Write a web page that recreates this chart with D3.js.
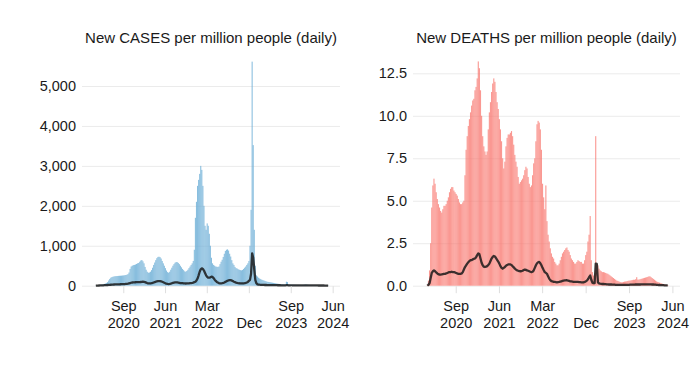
<!DOCTYPE html>
<html>
<head>
<meta charset="utf-8">
<script src="https://cdn.jsdelivr.net/npm/d3@7"></script>
<style>
  body { margin: 0; background: #fff; }
  text { font-family: "Liberation Sans", Arial, Helvetica, sans-serif; fill: #1a1a1a; }
  .title { font-size: 15px; }
  .tick text { font-size: 14.5px; fill: #1a1a1a; }
</style>
</head>
<body>
<div class="chart"></div>
<script>
// weekly values, first week starts 2020-03-02
const firstWeek = new Date(Date.UTC(2020, 2, 2));

const casesBars = [
  5, 8, 12, 15, 20, 25, 30, 35, 45, 55,
  70, 90, 130, 170, 200, 215, 225, 232, 238, 240,
  242, 245, 248, 250, 252, 255, 258, 262, 268, 275,
  290, 330, 420, 480, 500, 515, 520, 530, 545, 560,
  570, 600, 630, 643, 610, 560, 470, 400, 350, 325,
  330, 350, 390, 450, 520, 580, 640, 690, 720, 726,
  715, 680, 620, 560, 500, 440, 380, 340, 325, 350,
  400, 450, 500, 540, 575, 593, 590, 570, 540, 500,
  460, 420, 390, 360, 350, 370, 400, 440, 480, 520,
  560, 620, 900, 1700, 2100, 2500, 2650, 2800, 3000, 2900,
  2500, 2000, 1500, 1400, 1560, 1500, 1300, 1000, 700, 560,
  520, 500, 480, 475, 470, 480, 540, 600, 650, 720,
  800, 870, 900, 910, 880, 800, 730, 640, 560, 520,
  470, 440, 430, 410, 400, 390, 385, 395, 420, 450,
  480, 520, 560, 620, 1000, 1900, 5610, 3520, 1400, 500,
  260, 230, 200, 180, 165, 150, 140, 130, 120, 110,
  100, 95, 90, 85, 80, 75, 70, 65, 60, 55,
  50, 45, 42, 40, 38, 35, 32, 30, 100, 90,
  30, 28, 26, 25, 24, 23, 22, 21, 20, 20,
  19, 19, 18, 18, 20, 25, 30, 28, 22, 18,
  16, 15, 15, 14, 14, 13, 13, 12, 12, 12,
  11, 11, 10, 10, 10, 9, 9, 8
];

const casesLine = [
  0, 2, 3, 5, 6, 8, 9, 10, 12, 14,
  16, 18, 20, 22, 24, 26, 28, 30, 31, 32,
  33, 34, 35, 36, 37, 38, 40, 42, 44, 46,
  50, 58, 66, 74, 80, 83, 85, 86, 87, 88,
  88, 90, 93, 96, 100, 98, 90, 78, 66, 58,
  56, 58, 62, 70, 80, 90, 100, 108, 114, 117,
  115, 108, 98, 86, 72, 60, 50, 44, 42, 45,
  52, 62, 72, 78, 82, 83, 82, 78, 72, 66,
  66, 62, 58, 56, 55, 56, 58, 60, 63, 66,
  70, 78, 88, 100, 130, 180, 260, 350, 410, 434,
  420, 380, 320, 260, 220, 200, 200, 210, 225, 220,
  190, 150, 120, 95, 78, 65, 58, 58, 62, 70,
  82, 95, 110, 125, 135, 142, 138, 128, 115, 100,
  88, 78, 70, 65, 61, 58, 57, 57, 58, 62,
  70, 80, 95, 120, 145, 300, 810, 700, 400, 140,
  60, 33, 28, 25, 23, 21, 20, 19, 18, 17,
  16, 15, 15, 14, 14, 13, 13, 12, 12, 12,
  11, 11, 11, 10, 10, 10, 10, 10, 12, 12,
  10, 9, 9, 9, 9, 8, 8, 8, 8, 8,
  8, 8, 7, 7, 8, 9, 10, 10, 9, 8,
  7, 7, 7, 6, 6, 6, 6, 6, 5, 5,
  5, 5, 5, 5, 4, 4, 4, 4
];

const deathsBars = [
  0.05, 0.3, 0.9, 2.5, 4.6, 5.9, 6.3, 6.0, 5.5, 5.1,
  4.8, 4.6, 4.4, 4.3, 4.5, 4.7, 4.7, 4.8, 5.0, 5.2,
  5.5, 5.7, 5.8, 5.8, 5.6, 5.5, 5.4, 5.3, 5.1, 4.9,
  4.8, 4.8, 4.9, 5.0, 6.5, 8.0, 8.8, 9.4, 9.8, 10.2,
  10.6, 10.9, 11.0, 11.5, 11.7, 12.2, 13.2, 12.8, 11.5, 10.0,
  8.8, 8.2, 7.9, 7.7, 7.9, 9.2, 10.2, 10.8, 11.4, 11.9,
  12.2, 12.0, 11.4, 10.8, 10.4, 9.8, 9.2, 8.5, 7.5, 6.9,
  7.3, 8.2, 8.7, 8.9, 8.9, 9.0, 9.1, 8.8, 8.3, 7.7,
  7.3, 7.0, 6.4, 6.0, 6.1, 6.2, 6.3, 6.5, 6.8, 7.0,
  6.9, 6.4, 6.0, 5.8, 5.9, 6.5, 7.2, 7.5, 8.5, 9.5,
  9.7, 9.6, 9.2, 8.0, 6.0, 5.2, 4.5, 5.9, 3.8, 3.0,
  2.6, 2.2, 1.9, 1.7, 1.6, 1.4, 1.3, 1.2, 1.2, 1.3,
  1.5, 1.7, 1.9, 2.0, 2.1, 2.2, 2.25, 2.1, 2.0, 1.8,
  1.6, 1.5, 1.4, 1.3, 1.3, 1.4, 1.5, 1.45, 1.4, 1.4,
  1.3, 1.3, 1.5, 1.8, 2.0, 2.6, 3.0, 4.1, 1.5, 0.8,
  0.6, 0.7, 8.8, 1.3, 1.2, 1.0, 0.9, 0.85, 0.8, 0.8,
  0.78, 0.75, 0.72, 0.7, 0.65, 0.6, 0.55, 0.5, 0.45, 0.4,
  0.35, 0.3, 0.28, 0.25, 0.22, 0.2, 0.2, 0.22, 0.24, 0.25,
  0.26, 0.28, 0.3, 0.3, 0.32, 0.33, 0.35, 0.35, 0.38, 0.5,
  0.36, 0.36, 0.38, 0.4, 0.42, 0.44, 0.46, 0.48, 0.5, 0.52,
  0.55, 0.55, 0.5, 0.45, 0.4, 0.35, 0.3, 0.25, 0.22, 0.2,
  0.17, 0.15, 0.12, 0.1, 0.08, 0.06, 0.05, 0.04
];

const deathsLine = [
  0.0, 0.05, 0.15, 0.45, 0.75, 0.85, 0.9, 0.85, 0.78, 0.72,
  0.68, 0.65, 0.65, 0.66, 0.68, 0.7, 0.7, 0.72, 0.75, 0.78,
  0.8, 0.8, 0.82, 0.8, 0.8, 0.78, 0.75, 0.72, 0.7, 0.7,
  0.7, 0.72, 0.8, 0.95, 1.1, 1.2, 1.3, 1.38, 1.45, 1.5,
  1.5, 1.55, 1.58, 1.6, 1.68, 1.8, 1.9, 1.85, 1.6, 1.35,
  1.2, 1.12, 1.1, 1.12, 1.15, 1.22, 1.3, 1.45, 1.6, 1.7,
  1.75, 1.72, 1.62, 1.52, 1.42, 1.3, 1.15, 1.05, 1.0, 1.05,
  1.1, 1.18, 1.22, 1.25, 1.26, 1.25, 1.22, 1.15, 1.08, 1.0,
  0.95, 0.9, 0.88, 0.86, 0.85, 0.86, 0.88, 0.92, 0.95, 0.93,
  0.9, 0.88, 0.85, 0.82, 0.8, 0.82, 0.9, 1.05, 1.2, 1.32,
  1.38, 1.4, 1.32, 1.2, 1.05, 0.92, 0.8, 0.75, 0.7, 0.55,
  0.42, 0.33, 0.27, 0.25, 0.23, 0.22, 0.21, 0.2, 0.21, 0.22,
  0.24, 0.26, 0.28, 0.3, 0.31, 0.32, 0.32, 0.3, 0.28, 0.26,
  0.25, 0.24, 0.23, 0.22, 0.22, 0.22, 0.22, 0.21, 0.21, 0.2,
  0.2, 0.2, 0.22, 0.25, 0.3, 0.38, 0.5, 0.6, 0.35, 0.18,
  0.15, 0.15, 1.3, 1.28, 0.2, 0.14, 0.12, 0.11, 0.1, 0.1,
  0.09, 0.09, 0.08, 0.08, 0.07, 0.07, 0.07, 0.06, 0.06, 0.06,
  0.05, 0.05, 0.05, 0.05, 0.05, 0.05, 0.05, 0.05, 0.05, 0.05,
  0.05, 0.05, 0.05, 0.06, 0.06, 0.06, 0.06, 0.06, 0.07, 0.07,
  0.07, 0.07, 0.07, 0.08, 0.08, 0.08, 0.08, 0.08, 0.08, 0.08,
  0.08, 0.08, 0.08, 0.07, 0.07, 0.06, 0.06, 0.05, 0.05, 0.04,
  0.04, 0.03, 0.03, 0.03, 0.02, 0.02, 0.02, 0.02
];

const xTickDates = ["2020-09-01", "2021-06-01", "2022-03-01", "2022-12-01", "2023-09-01", "2024-06-01"];
const xTickLabels = [["Sep", "2020"], ["Jun", "2021"], ["Mar", "2022"], ["", "Dec"], ["Sep", "2023"], ["Jun", "2024"]];
const casesTicks = [0, 1000, 2000, 3000, 4000, 5000];
const deathsTicks = [0, 2.5, 5, 7.5, 10, 12.5];

const svg = d3.select(".chart")
  .append("svg")
    .attr("width", 700)
    .attr("height", 367);

const xDomain = [new Date(Date.UTC(2019, 11, 6)), new Date(Date.UTC(2024, 6, 19))];
const weekDate = i => d3.utcDay.offset(firstWeek, 7 * i);
const baseY = 285.7;

function drawPanel(cfg) {
  const x = d3.scaleUtc().domain(xDomain).range([cfg.left, cfg.right]);
  const y = d3.scaleLinear().domain([0, cfg.yMax]).range([baseY, cfg.yTopPx]);
  const g = svg.append("g");

  // horizontal grid + y labels
  const yAxis = g.append("g")
    .attr("transform", `translate(${cfg.left},0)`)
    .call(d3.axisLeft(y)
      .tickValues(cfg.ticks)
      .tickSize(-(cfg.right - cfg.left))
      .tickPadding(6)
      .tickFormat(cfg.fmt));
  yAxis.select(".domain").remove();
  yAxis.selectAll(".tick line").attr("stroke", "#ebebeb");

  // bars
  g.append("g")
    .selectAll("rect")
    .data(cfg.bars).enter()
    .append("rect")
      .attr("x", (d, i) => x(weekDate(i)))
      .attr("width", (d, i) => x(weekDate(i + 1)) - x(weekDate(i)))
      .attr("y", d => y(d))
      .attr("height", d => baseY - y(d))
      .attr("fill", cfg.color)
      .attr("fill-opacity", cfg.opacity);

  // average line
  const line = d3.line()
    .x((d, i) => x(d3.utcHour.offset(weekDate(i), 84)))
    .y(d => y(d));
  g.append("path")
    .datum(cfg.line)
    .attr("d", line)
    .attr("fill", "none")
    .attr("stroke", "#1a1a1a")
    .attr("stroke-opacity", 0.85)
    .attr("stroke-width", 2.3)
    .attr("stroke-linejoin", "round");

  // x axis ticks
  const xAxis = g.append("g")
    .attr("transform", `translate(0,${baseY + 0.5})`)
    .call(d3.axisBottom(x)
      .tickValues(xTickDates.map(s => new Date(s + "T00:00:00Z")))
      .tickSize(7)
      .tickFormat(""));
  xAxis.select(".domain").remove();
  xAxis.selectAll(".tick line").attr("stroke", "#dedede");
  xAxis.selectAll(".tick text").remove();
  xAxis.selectAll(".tick").each(function(d, i) {
    const t = d3.select(this).append("text")
      .attr("text-anchor", "middle")
      .attr("fill", "#1a1a1a");
    xTickLabels[i].forEach((s, j) => {
      t.append("tspan").attr("x", 0).attr("y", 25 + j * 17).text(s);
    });
  });

  svg.append("text")
    .attr("class", "title")
    .attr("x", (cfg.left + cfg.right) / 2)
    .attr("y", 42.5)
    .attr("text-anchor", "middle")
    .text(cfg.title);
}

drawPanel({
  title: "New CASES per million people (daily)",
  left: 82, right: 340,
  yMax: 5000, yTopPx: 86,
  ticks: casesTicks, fmt: d3.format(","),
  bars: casesBars, line: casesLine,
  color: "#6BAED6", opacity: 0.8
});

drawPanel({
  title: "New DEATHS per million people (daily)",
  left: 413, right: 680,
  yMax: 12.5, yTopPx: 73.3,
  ticks: deathsTicks, fmt: d3.format(".1f"),
  bars: deathsBars, line: deathsLine,
  color: "#F8766D", opacity: 0.75
});
</script>
</body>
</html>
